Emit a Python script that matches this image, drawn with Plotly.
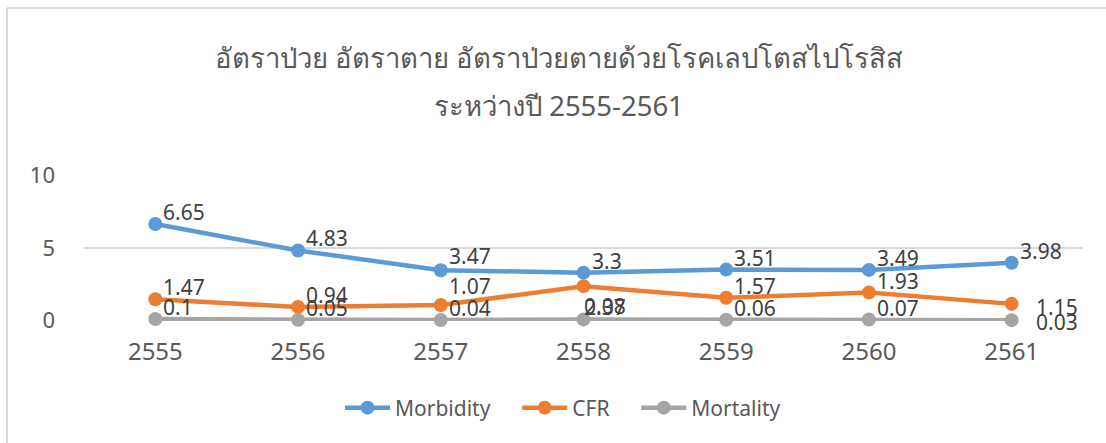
import plotly.graph_objects as go

years = ["2555", "2556", "2557", "2558", "2559", "2560", "2561"]
morbidity = [6.65, 4.83, 3.47, 3.3, 3.51, 3.49, 3.98]
cfr = [1.47, 0.94, 1.07, 2.37, 1.57, 1.93, 1.15]
mortality = [0.1, 0.05, 0.04, 0.08, 0.06, 0.07, 0.03]
y_ticks = [0, 5, 10]

title_lines = ["อัตราป่วย อัตราตาย อัตราป่วยตายด้วยโรคเลปโตสไปโรสิส", "ระหว่างปี 2555-2561"]

series = [
    ("Morbidity", morbidity, "#5B9BD5"),
    ("CFR", cfr, "#ED7D31"),
    ("Mortality", mortality, "#A5A5A5"),
]

# label pixel offsets (style only): default and per-point overrides
default_shift = (6, 12)
shift_override = {
    ("CFR", 3): (-2, -21),
    ("CFR", 6): (22, -3),
    ("Mortality", 3): (-2, 13),
    ("Mortality", 6): (22, -2),
    ("Morbidity", 2): (6, 14),
    ("CFR", 2): (6, 19),
}
legend_pad = {"Morbidity": 4, "CFR": 4, "Mortality": 0}

W, H = 1106, 443
ml, mr, mt, mb = 84, 23, 175, 122
pw, ph = W - ml - mr, H - mt - mb

FONT = "Noto Sans, Open Sans, sans-serif"

fig = go.Figure()
annotations = []
for name, vals, color in series:
    fig.add_trace(go.Scatter(
        x=years, y=vals, name=name + "\u00a0" * legend_pad[name], mode="lines+markers",
        line=dict(color=color, width=4.5),
        marker=dict(color=color, size=14),
        cliponaxis=False,
    ))
    for i, yv in enumerate(vals):
        dx, dy = shift_override.get((name, i), default_shift)
        annotations.append(dict(
            x=i, y=yv, xref="x", yref="y", text=f"{yv:g}",
            showarrow=False, xanchor="left", yanchor="middle",
            xshift=dx, yshift=dy,
            font=dict(family=FONT, size=21, color="#404040"),
        ))


def px_x(px):
    return (px - ml) / pw


def px_y(py):
    return (H - mb - py) / ph


for line_text, cy in zip(title_lines, [58, 105]):
    annotations.append(dict(
        x=px_x(559), xref="paper", y=px_y(cy), yref="paper",
        text=line_text, showarrow=False, xanchor="center", yanchor="middle",
        font=dict(family=FONT, size=27.5, color="#595959"),
    ))

shapes = [
    dict(type="line", xref="paper", yref="paper", x0=px_x(7), x1=px_x(1106), y0=px_y(8), y1=px_y(8),
         line=dict(color="#D9D9D9", width=2)),
    dict(type="line", xref="paper", yref="paper", x0=px_x(7), x1=px_x(7), y0=px_y(8), y1=px_y(443),
         line=dict(color="#D9D9D9", width=2)),
]

fig.update_layout(
    width=W, height=H,
    margin=dict(l=ml, r=mr, t=mt, b=mb),
    paper_bgcolor="white", plot_bgcolor="white",
    xaxis=dict(
        type="category", range=[-0.5, 6.5],
        showgrid=False, showline=False, zeroline=False, ticks="",
        tickfont=dict(family=FONT, size=24, color="#595959"),
        ticklabelstandoff=14,
    ),
    yaxis=dict(
        range=[-0.03, 10.03], tickvals=y_ticks,
        showgrid=True, gridcolor="#D9D9D9", gridwidth=1.5,
        zeroline=False, showline=False, ticks="",
        tickfont=dict(family=FONT, size=22, color="#595959"),
        ticklabelstandoff=28,
    ),
    legend=dict(
        orientation="h", x=px_x(563), xanchor="center", y=px_y(408), yanchor="middle",
        font=dict(family=FONT, size=21, color="#595959"),
        tracegroupgap=0, itemwidth=45,
    ),
    annotations=annotations,
    shapes=shapes,
)

fig.write_html(
    "out.html",
    config={"displayModeBar": False},
    post_script="document.body.style.margin='0';document.body.style.overflow='hidden';",
)
